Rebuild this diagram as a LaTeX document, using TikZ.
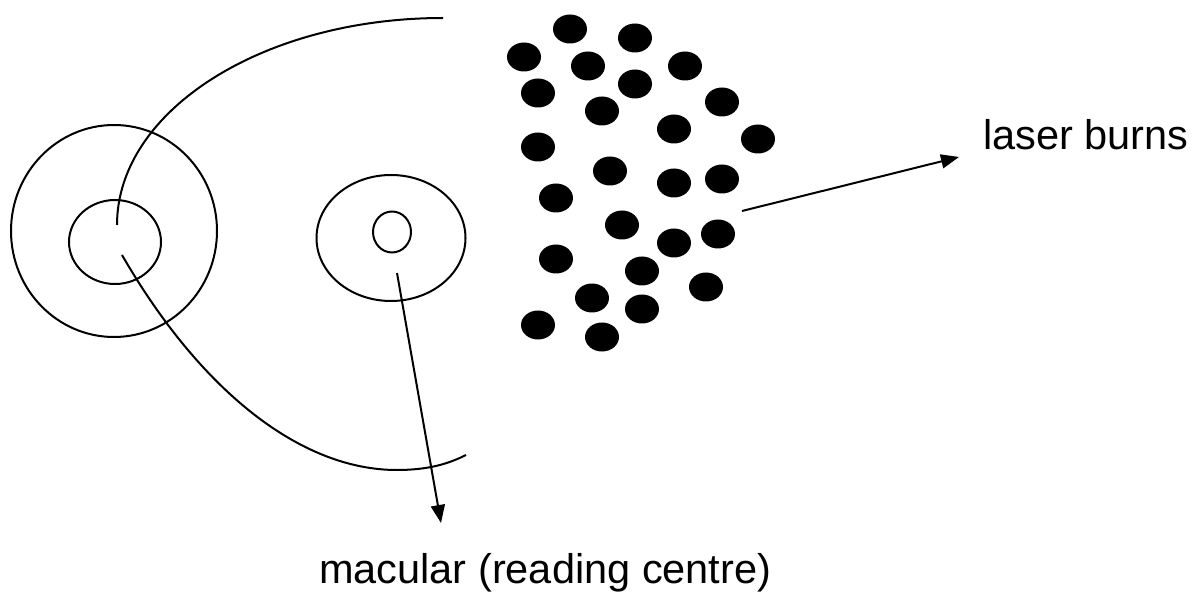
\documentclass[tikz,border=0pt]{standalone}
\usepackage{fontspec}
\setmainfont{Liberation Sans}
\usetikzlibrary{arrows.meta}
\begin{document}
\begin{tikzpicture}[x=1pt,y=-1pt,
  outline/.style={line width=2pt, black},
  burn/.style={fill=black},
  pointer/.style={line width=2pt, -{Triangle[length=18pt,width=14pt]}},
  caption/.style={inner sep=0pt, font=\fontsize{41.5pt}{50pt}\selectfont}]
\useasboundingbox (0,0) rectangle (1193,593);

% optic disc: two rings
\draw[outline] (114,231) ellipse [x radius=103pt, y radius=106pt];
\draw[outline] (115,242) ellipse [x radius=46pt, y radius=42pt];

% vessels leaving the disc
\draw[outline] (443,18) arc [start angle=90, end angle=180, x radius=326pt, y radius=207pt];
\draw[outline] (122,255) .. controls (200,390) and (300,470) .. (397,470)
                         .. controls (430,470) and (450,463) .. (466,455);

% macula
\draw[outline] (391,238) ellipse [x radius=74.5pt, y radius=63pt];
\draw[outline] (392,232) ellipse [x radius=19pt, y radius=20.5pt];

% laser burn spots
\foreach \px/\py in {570/29, 635/38, 524/57, 588/66, 635/84, 685/66, 538/93,
                     602/111, 722/102, 674/129, 758/139, 538/147, 610/171,
                     674/183, 722/179, 556/198, 622/225, 674/243, 718/234,
                     556/259, 642/271, 706/287, 592/298, 642/309, 538/325, 602/337}
  \fill[burn] (\px,\py) ellipse [x radius=17pt, y radius=14.5pt];

% labels
\node[caption, anchor=base west] (lasertxt) at (983,150) {laser burns};
\node[caption, anchor=base west] (maculatxt) at (319,583) {macular (reading centre)};

% pointers
\coordinate (laserfrom) at (742,211);
\coordinate (laserto) at (959,157);
\coordinate (macfrom) at (397,273);
\coordinate (macto) at (441,523);
\draw[pointer] (laserfrom) -- (laserto);
\draw[pointer] (macfrom) -- (macto);
\end{tikzpicture}
\end{document}
